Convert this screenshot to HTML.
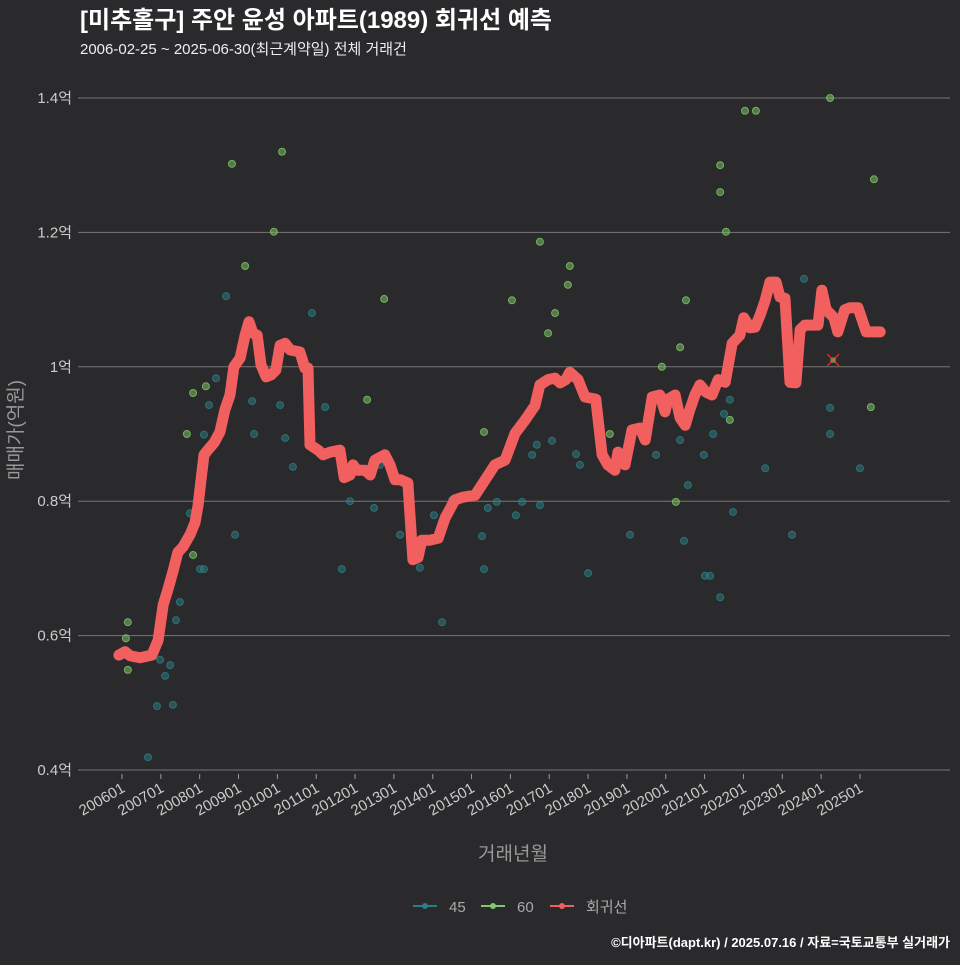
<!DOCTYPE html>
<html><head><meta charset="utf-8"><style>
body{margin:0;background:#2a292b;width:960px;height:960px;overflow:hidden;font-family:"Liberation Sans","Noto Sans CJK KR",sans-serif}
svg text{font-family:"Liberation Sans","Noto Sans CJK KR",sans-serif}
</style></head><body>
<svg id="c" width="960" height="960">
<rect width="960" height="960" fill="#2a292b"/>
<text x="80" y="28" fill="#fff" font-size="24" font-weight="bold">[미추홀구] 주안 윤성 아파트(1989) 회귀선 예측</text>
<text x="80" y="54" fill="#eee" font-size="15">2006-02-25 ~ 2025-06-30(최근계약일) 전체 거래건</text>
<g id="grid"></g><g id="pts"></g><g id="line"></g><g id="xt"></g>
<text x="513" y="860" fill="#999" font-size="19" text-anchor="middle">거래년월</text>
<text transform="translate(22,430) rotate(-90)" fill="#999" font-size="19" text-anchor="middle">매매가(억원)</text>
<g>
<g><line x1="413" y1="906" x2="437" y2="906" stroke="#2a7f86" stroke-width="2"/><circle cx="425" cy="906" r="3" fill="#2a7f86"/><text x="449" y="912" fill="#aaa" font-size="15">45</text></g>
<g><line x1="481" y1="906" x2="505" y2="906" stroke="#7fc96a" stroke-width="2"/><circle cx="493" cy="906" r="3" fill="#7fc96a"/><text x="517" y="912" fill="#aaa" font-size="15">60</text></g>
<g><line x1="550" y1="906" x2="574" y2="906" stroke="#f25f5f" stroke-width="2"/><circle cx="562" cy="906" r="3" fill="#f25f5f"/><text x="586" y="912" fill="#aaa" font-size="15">회귀선</text></g>
</g>
<text x="950" y="947" fill="#fff" font-size="13" font-weight="bold" text-anchor="end">©디아파트(dapt.kr) / 2025.07.16 / 자료=국토교통부 실거래가</text>
</svg>
<script>
const yTicks=[0.4,0.6,0.8,1.0,1.2,1.4];
const yTickLabels=["0.4억","0.6억","0.8억","1억","1.2억","1.4억"];
const xTicks=[2006,2007,2008,2009,2010,2011,2012,2013,2014,2015,2016,2017,2018,2019,2020,2021,2022,2023,2024,2025];
const xTickLabels=["200601","200701","200801","200901","201001","201101","201201","201301","201401","201501","201601","201701","201801","201901","202001","202101","202201","202301","202401","202501"];
const regX=[2005.92,2006.08,2006.21,2006.46,2006.77,2006.93,2007.06,2007.18,2007.31,2007.44,2007.57,2007.75,2007.88,2007.96,2008.03,2008.11,2008.21,2008.37,2008.52,2008.65,2008.78,2008.88,2009.04,2009.17,2009.27,2009.37,2009.48,2009.58,2009.71,2009.84,2009.96,2010.07,2010.20,2010.33,2010.58,2010.71,2010.79,2010.84,2011.05,2011.18,2011.36,2011.61,2011.72,2011.87,2011.95,2012.05,2012.26,2012.39,2012.51,2012.77,2012.90,2013.03,2013.16,2013.36,2013.49,2013.62,2013.72,2013.93,2014.14,2014.32,2014.57,2014.78,2015.09,2015.35,2015.60,2015.86,2016.12,2016.38,2016.63,2016.76,2016.97,2017.15,2017.28,2017.43,2017.53,2017.74,2017.92,2018.20,2018.36,2018.51,2018.69,2018.77,2018.95,2019.13,2019.34,2019.47,2019.65,2019.85,2019.98,2020.06,2020.24,2020.37,2020.50,2020.62,2020.75,2020.88,2021.04,2021.19,2021.35,2021.53,2021.71,2021.91,2022.01,2022.17,2022.30,2022.43,2022.56,2022.68,2022.84,2022.94,2023.07,2023.20,2023.35,2023.46,2023.58,2023.76,2023.92,2024.02,2024.13,2024.33,2024.43,2024.61,2024.74,2024.95,2025.16,2025.52];
const regV=[0.571,0.576,0.570,0.567,0.571,0.593,0.646,0.668,0.695,0.724,0.732,0.750,0.768,0.794,0.829,0.869,0.876,0.887,0.903,0.936,0.958,1.000,1.013,1.047,1.067,1.050,1.047,1.003,0.985,0.988,0.995,1.032,1.035,1.025,1.022,0.998,0.998,0.884,0.876,0.869,0.873,0.876,0.835,0.839,0.854,0.846,0.846,0.839,0.861,0.869,0.854,0.832,0.832,0.827,0.713,0.716,0.742,0.742,0.745,0.775,0.802,0.806,0.809,0.832,0.854,0.861,0.901,0.921,0.942,0.973,0.981,0.983,0.976,0.981,0.992,0.981,0.955,0.952,0.869,0.854,0.846,0.873,0.854,0.906,0.909,0.891,0.955,0.958,0.933,0.952,0.958,0.924,0.913,0.936,0.958,0.973,0.962,0.958,0.981,0.977,1.035,1.047,1.073,1.058,1.059,1.077,1.099,1.126,1.126,1.104,1.102,0.977,0.976,1.055,1.062,1.062,1.062,1.114,1.085,1.073,1.052,1.085,1.088,1.088,1.052,1.052];
const g60X=[2006.10,2006.15,2006.15,2007.67,2007.83,2007.83,2008.16,2008.83,2009.17,2009.91,2010.12,2012.31,2012.75,2015.32,2016.04,2016.76,2016.97,2017.15,2017.48,2017.53,2018.56,2019.90,2020.26,2020.37,2020.52,2021.40,2021.40,2021.55,2021.65,2022.04,2022.32,2024.23,2025.36,2025.28];
const g60V=[0.596,0.620,0.549,0.900,0.961,0.720,0.971,1.302,1.150,1.201,1.320,0.951,1.101,0.903,1.099,1.186,1.050,1.080,1.122,1.150,0.900,1.000,0.799,1.029,1.099,1.300,1.260,1.201,0.921,1.381,1.381,1.400,1.279,0.940];
const g45X=[2006.67,2006.90,2006.98,2007.11,2007.24,2007.31,2007.39,2007.49,2007.75,2008.01,2008.11,2008.11,2008.24,2008.42,2008.68,2008.91,2009.35,2009.40,2010.07,2010.20,2010.40,2010.89,2011.23,2011.66,2011.87,2012.49,2012.64,2013.16,2013.67,2014.03,2014.24,2014.50,2015.27,2015.32,2015.42,2015.65,2016.14,2016.30,2016.56,2016.68,2016.76,2017.07,2017.69,2017.79,2018.00,2019.08,2019.75,2020.37,2020.47,2020.57,2021.01,2021.14,2020.98,2021.22,2021.40,2021.50,2021.65,2021.73,2022.56,2023.25,2023.56,2024.23,2024.23,2025.00];
const g45V=[0.419,0.495,0.564,0.540,0.556,0.497,0.623,0.650,0.782,0.699,0.699,0.899,0.943,0.983,1.105,0.750,0.949,0.900,0.943,0.894,0.851,1.080,0.940,0.699,0.800,0.790,0.854,0.750,0.701,0.779,0.620,0.802,0.748,0.699,0.790,0.799,0.779,0.799,0.869,0.884,0.794,0.890,0.870,0.854,0.693,0.750,0.869,0.891,0.741,0.824,0.689,0.689,0.869,0.900,0.657,0.930,0.951,0.784,0.849,0.750,1.131,0.939,0.900,0.849];
const predX=[2024.31];const predV=[1.010];
const NS="http://www.w3.org/2000/svg";
const xS=y=>122+(y-2006)*38.84;
const yS=v=>770-(v-0.4)*672;
function mk(t,a,p){const e=document.createElementNS(NS,t);for(const k in a)e.setAttribute(k,a[k]);p.appendChild(e);return e;}
const grid=document.getElementById('grid');
yTicks.forEach((v,i)=>{
 const l=mk('line',{x1:78,x2:950,y1:yS(v),y2:yS(v),stroke:'#777','stroke-width':1},grid);
 
 
 const t=mk('text',{x:72,y:yS(v)+5,fill:'#ccc','font-size':15,'text-anchor':'end'},grid);
 t.textContent=yTickLabels[i];
 
 
});
const xt=document.getElementById('xt');
xTicks.forEach((y,i)=>{
 const x=xS(y);
 const tk=mk('line',{x1:x,x2:x,y1:774,y2:779,stroke:'#999'},xt);
 
 
 const t=mk('text',{x:0,y:0,fill:'#ccc','font-size':15,'text-anchor':'end',transform:`translate(${x+4},${791}) rotate(-30)`},xt);
 t.textContent=xTickLabels[i];
 
 
});
const pts=document.getElementById('pts');
g45X.forEach((x,i)=>{const c=mk('circle',{cx:xS(x),cy:yS(g45V[i]),r:3.5,fill:'#2a7f86','fill-opacity':0.5,stroke:'#2a7f86','stroke-opacity':0.8,'stroke-width':1},pts);
 
 });
g60X.forEach((x,i)=>{const c=mk('circle',{cx:xS(x),cy:yS(g60V[i]),r:3.5,fill:'#7fc96a','fill-opacity':0.5,stroke:'#7fc96a','stroke-opacity':0.8,'stroke-width':1},pts);
 
 });
const ln=document.getElementById('line');
const d=regX.map((x,i)=>(i?'L':'M')+xS(x).toFixed(1)+','+yS(regV[i]).toFixed(1)).join('');
const p=mk('path',{d:d,fill:'none',stroke:'#f25f5f','stroke-width':11,'stroke-linejoin':'round','stroke-linecap':'round'},ln);


predX.forEach((x,i)=>{const cx=xS(x),cy=yS(predV[i]);
 const g=mk('g',{stroke:'#d22','stroke-width':1.5},ln);
 
 
 mk('line',{x1:cx-6,y1:cy-6,x2:cx+6,y2:cy+6},g);mk('line',{x1:cx-6,y1:cy+6,x2:cx+6,y2:cy-6},g);
 mk('circle',{cx:cx,cy:cy,r:3,fill:'#7fc96a','fill-opacity':0.5,stroke:'none'},g);});
</script>
</body></html>
